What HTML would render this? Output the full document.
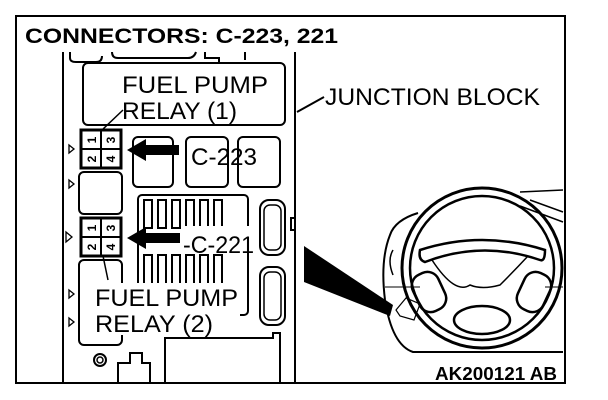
<!DOCTYPE html>
<html><head><meta charset="utf-8"><style>
html,body{margin:0;padding:0;background:#fff;}
svg{display:block;}
text{font-family:"Liberation Sans",sans-serif;fill:#000;}
</style></head><body>
<svg width="608" height="400" viewBox="0 0 608 400" xmlns="http://www.w3.org/2000/svg">
<rect x="16" y="16" width="549" height="367" fill="none" stroke="#000" stroke-width="2"/>
<g fill="none" stroke="#000" stroke-width="2">
<line x1="63" y1="52" x2="63" y2="383"/>
<line x1="295" y1="52" x2="295" y2="383"/>
<path d="M70 52 v6 q0 4 6 4 h20 q6 0 6 -6"/>
<path d="M112 52 q0 6 6 6 h70 q6 0 8 -6"/>
<path d="M205 52 v6 h14 v4"/>
<path d="M245 52 v8"/>
<rect x="83" y="63" width="202" height="62" rx="5"/>
<line x1="102" y1="130" x2="123" y2="110" stroke-width="1.5"/>
<rect x="133" y="137" width="40" height="50" rx="5"/>
<rect x="186" y="137" width="42" height="50" rx="5"/>
<rect x="238" y="137" width="42" height="50" rx="5"/>
<rect x="79" y="172" width="43" height="42" rx="5"/>
<rect x="138" y="195" width="110" height="120" rx="4"/>
<rect x="260" y="200" width="25" height="55" rx="9"/>
<rect x="264" y="205" width="17" height="45" rx="6" stroke-width="1.5"/>
<rect x="260" y="267" width="25" height="58" rx="9"/>
<rect x="264" y="272" width="17" height="48" rx="6" stroke-width="1.5"/>
<rect x="79" y="260" width="43" height="85" rx="5"/>
<path d="M165 383 v-45 h108 v-5 h7 v50"/>
<path d="M118 383 v-20 h12 v-10 h12 v10 h8 v20"/>
<circle cx="100" cy="360" r="6"/>
<circle cx="100" cy="360" r="3" stroke-width="1.5"/>
<rect x="291" y="218" width="4" height="12"/>
<line x1="297" y1="112" x2="324" y2="97"/>
</g>
<g fill="none" stroke="#000" stroke-width="2">
<rect x="144" y="200" width="8" height="28"/><rect x="158" y="200" width="8" height="28"/><rect x="172" y="200" width="8" height="28"/><rect x="186" y="200" width="8" height="28"/><rect x="200" y="200" width="8" height="28"/><rect x="214" y="200" width="8" height="28"/>
<rect x="144" y="255" width="8" height="30"/><rect x="158" y="255" width="8" height="30"/><rect x="172" y="255" width="8" height="30"/><rect x="186" y="255" width="8" height="30"/><rect x="200" y="255" width="8" height="30"/><rect x="214" y="255" width="8" height="30"/>
</g>
<g fill="none" stroke="#000" stroke-width="1.3">
<path d="M69 145 l5 4 -5 4z"/><path d="M69 180 l5 4 -5 4z"/><path d="M66 232 l6 5 -6 5z"/><path d="M69 290 l5 4 -5 4z"/><path d="M69 318 l5 4 -5 4z"/>
</g>
<g stroke="#000" fill="none">
<rect x="81" y="130" width="40" height="38" stroke-width="3"/>
<line x1="101" y1="130" x2="101" y2="168" stroke-width="2"/><line x1="81" y1="149" x2="121" y2="149" stroke-width="2"/>
<rect x="81" y="218" width="40" height="38" stroke-width="3"/>
<line x1="101" y1="218" x2="101" y2="256" stroke-width="2"/><line x1="81" y1="237" x2="121" y2="237" stroke-width="2"/>
<line x1="103" y1="256" x2="108" y2="280" stroke-width="1.5"/>
</g>
<g font-size="12" font-weight="bold">
<text transform="translate(92,140) rotate(-90)" text-anchor="middle" dy="4">1</text>
<text transform="translate(92,159) rotate(-90)" text-anchor="middle" dy="4">2</text>
<text transform="translate(111,140) rotate(-90)" text-anchor="middle" dy="4">3</text>
<text transform="translate(111,159) rotate(-90)" text-anchor="middle" dy="4">4</text>
<text transform="translate(92,228) rotate(-90)" text-anchor="middle" dy="4">1</text>
<text transform="translate(92,247) rotate(-90)" text-anchor="middle" dy="4">2</text>
<text transform="translate(111,228) rotate(-90)" text-anchor="middle" dy="4">3</text>
<text transform="translate(111,247) rotate(-90)" text-anchor="middle" dy="4">4</text>
</g>
<path d="M127 150 L146 139 L146 145 L179 145 L179 155 L146 155 L146 161Z" fill="#000"/>
<path d="M127 238 L146 227 L146 233 L180 233 L180 243 L146 243 L146 249Z" fill="#000"/>
<rect x="90" y="283" width="150" height="52" fill="#fff"/>
<rect x="183" y="226" width="72" height="22" fill="#fff"/>
<g font-size="24">
<text x="122" y="93" textLength="146" lengthAdjust="spacingAndGlyphs">FUEL PUMP</text>
<text x="122" y="119" textLength="115" lengthAdjust="spacingAndGlyphs">RELAY (1)</text>
<text x="191" y="165" textLength="66" lengthAdjust="spacingAndGlyphs">C-223</text>
<text x="183" y="253" textLength="71" lengthAdjust="spacingAndGlyphs">-C-221</text>
<text x="95" y="306" textLength="143" lengthAdjust="spacingAndGlyphs">FUEL PUMP</text>
<text x="95" y="332" textLength="118" lengthAdjust="spacingAndGlyphs">RELAY (2)</text>
<text x="325" y="105" textLength="215" lengthAdjust="spacingAndGlyphs">JUNCTION BLOCK</text>
</g>
<text x="25" y="43" font-size="21" font-weight="bold" textLength="313" lengthAdjust="spacingAndGlyphs">CONNECTORS: C-223, 221</text>
<text x="435" y="380" font-size="18" font-weight="bold" textLength="122" lengthAdjust="spacingAndGlyphs">AK200121 AB</text>
<path d="M304 246 L304 282 L390 316 L393 305Z" fill="#000"/>
<g fill="none" stroke="#000" stroke-width="2">
<path d="M418 213 Q395 220 390 235 Q380 260 385 300 Q392 345 413 352 h150"/>
<circle cx="482" cy="268" r="80" stroke-width="3"/>
<circle cx="482" cy="268" r="72" stroke-width="2.5"/>
<path d="M420 250 Q482 230 545 250 Q545 262 540 260 Q482 240 425 262 Q418 260 420 250Z" stroke-width="2.5"/>
<path d="M432 260 Q455 295 470 285 Q482 290 500 285 Q515 270 528 256" stroke-width="1.5"/>
<rect x="415" y="272" width="28" height="40" rx="12" transform="rotate(-25 429 292)" stroke-width="2.5"/>
<rect x="520" y="272" width="28" height="40" rx="12" transform="rotate(25 534 292)" stroke-width="2.5"/>
<ellipse cx="482" cy="320" rx="28" ry="14" stroke-width="2.5"/>
<path d="M396 310 l10 -12 l14 6 l-6 16 l-14 -4z" stroke-width="1.2"/>
<path d="M393 250 q-6 10 0 25" stroke-width="1.5"/>
<path d="M520 192 L563 190 M530 200 L563 212 M520 206 L563 222" stroke-width="1.5"/>
<line x1="385" y1="287" x2="420" y2="287" stroke-width="1"/>
<line x1="545" y1="287" x2="563" y2="287" stroke-width="1"/>
</g>
</svg>
</body></html>
